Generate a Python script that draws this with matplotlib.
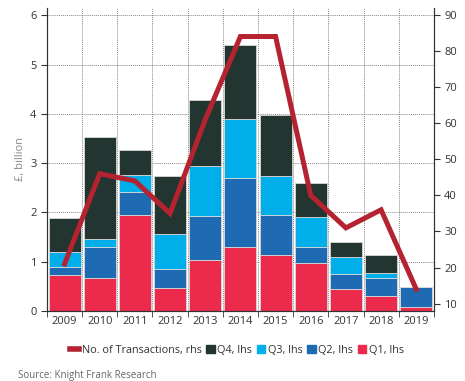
import matplotlib
matplotlib.use("Agg")
import matplotlib.pyplot as plt
from matplotlib.patches import Patch
from matplotlib.lines import Line2D
import numpy as np

plt.rcParams['font.family'] = ['Open Sans', 'DejaVu Sans']

years = ["2009", "2010", "2011", "2012", "2013", "2014", "2015", "2016", "2017", "2018", "2019"]
q1 = [0.72, 0.66, 1.95, 0.47, 1.04, 1.30, 1.13, 0.97, 0.45, 0.31, 0.07]
q2 = [0.18, 0.63, 0.46, 0.39, 0.88, 1.40, 0.81, 0.33, 0.30, 0.35, 0.42]
q3 = [0.29, 0.17, 0.34, 0.70, 1.03, 1.20, 0.79, 0.60, 0.35, 0.11, 0.00]
q4 = [0.69, 2.08, 0.51, 1.18, 1.34, 1.50, 1.25, 0.69, 0.30, 0.37, 0.00]
transactions = [21, 46, 44, 35, 61, 84, 84, 40, 31, 36, 14]

c_q1 = "#EC2A4C"
c_q2 = "#1E6BB4"
c_q3 = "#00AEEA"
c_q4 = "#223530"
c_line = "#B4232F"

fig = plt.figure(figsize=(4.65, 3.81), dpi=100)
ax = fig.add_axes([0.101, 0.184, 0.832, 0.795])
x = np.arange(len(years))
w = 0.91
ec = "#d8d8d8"
b1 = np.array(q1)
b2 = b1 + np.array(q2)
b3 = b2 + np.array(q3)
ax.bar(x, q1, w, color=c_q1, edgecolor=ec, linewidth=0.6, zorder=2)
ax.bar(x, q2, w, bottom=b1, color=c_q2, edgecolor=ec, linewidth=0.6, zorder=2)
ax.bar(x, q3, w, bottom=b2, color=c_q3, edgecolor=ec, linewidth=0.6, zorder=2)
ax.bar(x, q4, w, bottom=b3, color=c_q4, edgecolor=ec, linewidth=0.6, zorder=2)

ax.set_xlim(-0.5, len(years) - 0.5)
ax.set_ylim(0, 6.15)
ax.set_yticks([0, 1, 2, 3, 4, 5, 6])
ax.set_xticks(x)
ax.set_xticklabels(years)
ax.set_xticks(np.arange(-0.5, len(years)), minor=True)
ax.tick_params(axis='x', which='major', length=0, labelsize=8, colors='#333333', pad=4)
ax.tick_params(axis='x', which='minor', length=4, direction='out', color='#333333')
ax.tick_params(axis='y', labelsize=8, colors='#333333', length=4, direction='out')
ax.grid(axis='y', which='major', linestyle=(0, (1, 1)), color='#888888', linewidth=0.7, zorder=0)
ax.grid(axis='x', which='minor', linestyle=(0, (1, 1)), color='#888888', linewidth=0.7, zorder=0)
ax.set_axisbelow(True)
ax.spines['top'].set_visible(False)
for s in ['left', 'bottom', 'right']:
    ax.spines[s].set_color('#333333')
    ax.spines[s].set_linewidth(0.8)
ax.set_ylabel("£, billion", fontsize=8, color='#888888', labelpad=3)

ax2 = ax.twinx()
ax2.plot(x, transactions, color=c_line, linewidth=3.6, solid_joinstyle='miter', zorder=5)
ax2.set_ylim(8, 91.9)
ax2.set_yticks([10, 20, 30, 40, 50, 60, 70, 80, 90])
ax2.tick_params(axis='y', labelsize=8, colors='#333333', length=4, direction='out')
ax2.spines['top'].set_visible(False)
for s in ['left', 'bottom', 'right']:
    ax2.spines[s].set_color('#333333')
    ax2.spines[s].set_linewidth(0.8)

handles = [Line2D([0], [0], color=c_line, linewidth=4),
           Patch(color=c_q4), Patch(color=c_q3), Patch(color=c_q2), Patch(color=c_q1)]
labels = ["No. of Transactions, rhs", "Q4, lhs", "Q3, lhs", "Q2, lhs", "Q1, lhs"]
fig.legend(handles, labels, loc='center', bbox_to_anchor=(0.51, 0.081), ncol=5, frameon=False,
           fontsize=7.8, handlelength=0.8, handleheight=0.8, handletextpad=0.25, columnspacing=0.4,
           labelcolor='#333333')
fig.text(0.039, 0.009, "Source: Knight Frank Research", fontsize=7, color='#666666')

fig.savefig("out.png", dpi=100)
